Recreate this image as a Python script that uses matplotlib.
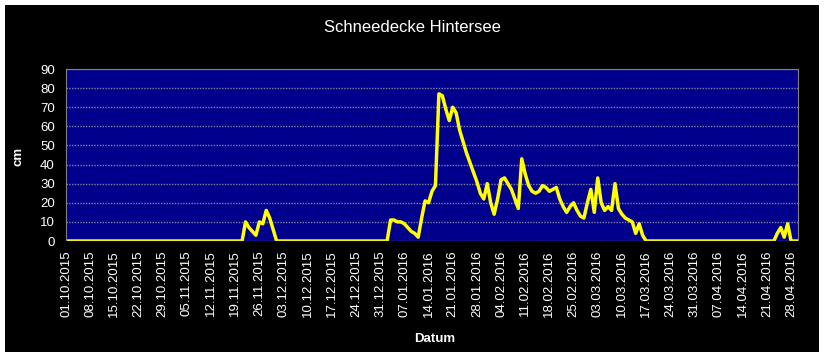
import pandas as pd
import matplotlib
matplotlib.use('Agg')
import matplotlib.pyplot as plt
import matplotlib.dates as mdates
from matplotlib.patches import Rectangle

# Messpunkte (Datum, Schneehöhe in cm)
dates = [
    '2015-10-01', '2015-11-21', '2015-11-22', '2015-11-23', '2015-11-24',
    '2015-11-25', '2015-11-26', '2015-11-27', '2015-11-28', '2015-11-29',
    '2015-11-30', '2015-12-01', '2016-01-02', '2016-01-03', '2016-01-04',
    '2016-01-05', '2016-01-06', '2016-01-07', '2016-01-08', '2016-01-09',
    '2016-01-10', '2016-01-11', '2016-01-12', '2016-01-13', '2016-01-14',
    '2016-01-15', '2016-01-16', '2016-01-17', '2016-01-18', '2016-01-19',
    '2016-01-20', '2016-01-21', '2016-01-22', '2016-01-23', '2016-01-24',
    '2016-01-25', '2016-01-26', '2016-01-27', '2016-01-28', '2016-01-29',
    '2016-01-30', '2016-01-31', '2016-02-01', '2016-02-02', '2016-02-03',
    '2016-02-04', '2016-02-05', '2016-02-06', '2016-02-07', '2016-02-08',
    '2016-02-09', '2016-02-10', '2016-02-11', '2016-02-12', '2016-02-13',
    '2016-02-14', '2016-02-15', '2016-02-16', '2016-02-17', '2016-02-18',
    '2016-02-19', '2016-02-20', '2016-02-21', '2016-02-22', '2016-02-23',
    '2016-02-24', '2016-02-25', '2016-02-26', '2016-02-27', '2016-02-28',
    '2016-02-29', '2016-03-01', '2016-03-02', '2016-03-03', '2016-03-04',
    '2016-03-05', '2016-03-06', '2016-03-07', '2016-03-08', '2016-03-09',
    '2016-03-10', '2016-03-11', '2016-03-12', '2016-03-13', '2016-03-14',
    '2016-03-15', '2016-03-16', '2016-03-17', '2016-04-23', '2016-04-24',
    '2016-04-25', '2016-04-26', '2016-04-27', '2016-04-28', '2016-04-30',
]
snow_cm = [
    0, 0, 10, 7, 5,
    3, 10, 9, 16, 12,
    6, 0, 0, 11, 11,
    10, 10, 9, 7, 5,
    4, 2, 12, 21, 20,
    26, 29, 77, 76, 69,
    63, 70, 67, 58, 52,
    46, 41, 36, 31, 25,
    22, 30, 20, 14, 22,
    32, 33, 30, 27, 22,
    17, 43, 35, 29, 26,
    25, 26, 29, 28, 26,
    27, 28, 22, 18, 15,
    18, 20, 16, 13, 12,
    20, 27, 15, 33, 20,
    16, 18, 16, 30, 17,
    14, 12, 11, 10, 4,
    9, 3, 0, 0, 4,
    7, 2, 9, 0, 0,
]

title = 'Schneedecke Hintersee'
x_label = 'Datum'
y_label = 'cm'

x = pd.to_datetime(dates)
ticks = pd.date_range('2015-10-01', '2016-04-28', freq='7D')

plt.rcParams['font.family'] = ['Liberation Sans', 'DejaVu Sans']

fig = plt.figure(figsize=(8.24, 3.57), dpi=100)
fig.set_facecolor('white')
fig.patches.append(Rectangle((5 / 824, 5 / 357), 814 / 824, 347 / 357,
                             transform=fig.transFigure, facecolor='black',
                             edgecolor='none', zorder=-10))

ax = fig.add_axes([66 / 824, 1 - 241 / 357, 732 / 824, 172 / 357])
ax.set_facecolor('#00008C')
ax.plot(x, snow_cm, color='#FFFF00', lw=2.5, solid_joinstyle='round')

ax.set_xlim(pd.Timestamp('2015-10-01'), pd.Timestamp('2016-04-30'))
ax.set_ylim(0, 90)
ax.set_yticks(range(0, 91, 10))
ax.set_xticks(ticks)
ax.xaxis.set_major_formatter(mdates.DateFormatter('%d.%m.%Y'))
ax.grid(axis='y', color='#8080A0', lw=1, ls=(0, (1, 1)))
ax.set_axisbelow(True)

for s in ax.spines.values():
    s.set_color('#808080')
    s.set_linewidth(0.8)
ax.spines['bottom'].set_color('black')

ax.tick_params(axis='both', colors='white', length=0, labelsize=9.5)
ax.tick_params(axis='y', pad=8)
ax.tick_params(axis='x', pad=7)
plt.setp(ax.get_xticklabels(), rotation=90)

fig.text(412 / 824, 1 - 27 / 357, title, color='white', fontsize=12,
         ha='center', va='center')
fig.text(435 / 824, 1 - 339 / 357, x_label, color='white', fontsize=9.5,
         fontweight='bold', ha='center', va='center')
fig.text(19 / 824, 1 - 156 / 357, y_label, color='white', fontsize=9.5,
         fontweight='bold', ha='center', va='center', rotation=90)

plt.savefig('out.png', dpi=100)
